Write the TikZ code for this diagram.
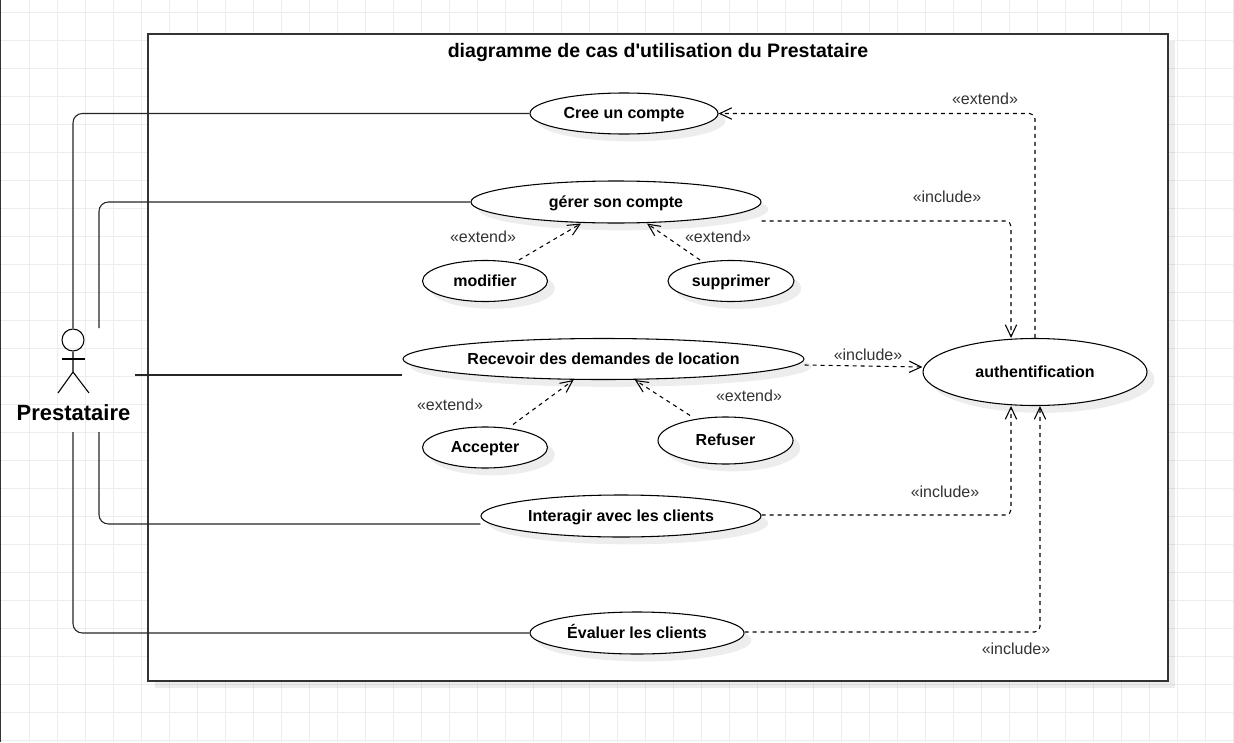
\documentclass[tikz,border=0pt]{standalone}
\usepackage{fontspec}
\setmainfont{Liberation Sans}
\newfontfamily\titlefont{Liberation Sans}
\usetikzlibrary{arrows.meta,shapes.geometric,shadows}
\definecolor{gridgray}{HTML}{EDEDED}
\definecolor{labelgray}{HTML}{333333}
\begin{document}
\begin{tikzpicture}[x = 0.75pt, y = -0.75pt, line width = 0.8pt,
	softshadow/.style = {drop shadow={shadow xshift=5.5pt,shadow yshift=-5.5pt,opacity=0.07,fill=black}},
	usecase/.style 2 args = {ellipse,draw,fill=white,softshadow,inner sep=0pt,text height=8.5pt,text depth=1pt,minimum width=#1*0.75pt,minimum height=#2*0.75pt,font=\fontsize{12}{14}\selectfont\bfseries},
	stereo/.style = {text=labelgray,font=\fontsize{12}{14}\selectfont},
	depend/.style = {dashed,dash pattern=on 3pt off 3pt,rounded corners=4pt,-{Straight Barb[length=9pt,width=8.5pt]}},
	assoc/.style = {draw=black!85,rounded corners=7pt},]
	
	\useasboundingbox (0,0) rectangle (1234,742);
	\fill[white] (0,0) rectangle (1234,742);
	\foreach \gx in {29,57,...,1233} {\draw[gridgray,line width=0.75pt] (\gx,0) -- (\gx,742);}
	\foreach \gy in {12.5,40.5,...,742} {\draw[gridgray,line width=0.75pt] (0,\gy) -- (1234,\gy);}
	\draw[labelgray,line width=1pt] (0.5,0) -- (0.5,742);
	
	\node[rectangle,draw=black!80,fill=white,softshadow,minimum width=1020*0.75pt,minimum height=647*0.75pt,inner sep=0pt] (frame) at (658,357.5) {};
	\node[font=\titlefont\fontsize{14.65}{18}\selectfont\bfseries] (title) at (658,52) {diagramme de cas d'utilisation du Prestataire};
	
	\node[circle,draw,inner sep=0pt,minimum size=22*0.75pt] (head) at (73,340) {};
	\coordinate (hip) at (73,372);
	\coordinate (armL) at (62,359);
	\coordinate (armR) at (85,359);
	\coordinate (footL) at (58,393);
	\coordinate (footR) at (89,393);
	\draw (head.south) -- (hip) -- (footL);
	\draw (hip) -- (footR);
	\draw (armL) -- (armR);
	\node[font=\fontsize{16.5}{20}\selectfont\bfseries] (actor) at (73.5,413) {Prestataire};
	
	\coordinate (actorA) at (99,328);
	\coordinate (actorB) at (135,375);
	\coordinate (actorC) at (99,432);
	\coordinate (actorD) at (73,432);
	
	\node[usecase={188}{41}] (cree) at (624,113.5) {Cree un compte};
	\node[usecase={290}{42}] (gerer) at (616,202) {gérer son compte};
	\node[usecase={125}{41}] (modifier) at (485,281) {modifier};
	\node[usecase={126}{41}] (supprimer) at (731,281) {supprimer};
	\node[usecase={401}{41}] (recevoir) at (603.5,359) {Recevoir des demandes de location};
	\node[usecase={125}{41}] (accepter) at (485,447.5) {Accepter};
	\node[usecase={135}{47}] (refuser) at (725.5,440.5) {Refuser};
	\node[usecase={224}{67}] (auth) at (1035,372) {authentification};
	\node[usecase={280}{42}] (interagir) at (621,516) {Interagir avec les clients};
	\node[usecase={214}{42}] (evaluer) at (637,633) {Évaluer les clients};
	
	\draw[assoc] (head.north) |- (cree.west);
	\draw[assoc] (actorA) |- (gerer.west);
	\draw[assoc] (actorB) -- ([shift={(0,16)}]recevoir.west);
	\draw[assoc] (actorC) |- ([shift={(0,8)}]interagir.west);
	\draw[assoc] (actorD) |- (evaluer.west);
	
	\draw[depend] (auth.north) |- (cree.east);
	\draw[depend] ([shift={(0,19)}]gerer.east) -| ([shift={(-24,0)}]auth.north);
	\draw[depend] ([shift={(34,0)}]modifier.north) -- ([shift={(-35,0)}]gerer.south);
	\draw[depend] ([shift={(-31,0)}]supprimer.north) -- ([shift={(31,0)}]gerer.south);
	\draw[depend] ([shift={(0,6)}]recevoir.east) -- ([shift={(0,-5)}]auth.west);
	\draw[depend] ([shift={(28,-2)}]accepter.north) -- ([shift={(-30,0)}]recevoir.south);
	\draw[depend] ([shift={(-35.5,-1)}]refuser.north) -- ([shift={(31.5,0)}]recevoir.south);
	\draw[depend] ([shift={(0,-1)}]interagir.east) -| ([shift={(-24,0)}]auth.south);
	\draw[depend] ([shift={(0,-1)}]evaluer.east) -| ([shift={(5,0)}]auth.south);
	
	\node[stereo] (extA) at (985,99) {«extend»};
	\node[stereo] (incA) at (947,197) {«include»};
	\node[stereo] (extB) at (483,237) {«extend»};
	\node[stereo] (extC) at (718,237) {«extend»};
	\node[stereo] (incB) at (868,355) {«include»};
	\node[stereo] (extD) at (450,405) {«extend»};
	\node[stereo] (extE) at (749,396) {«extend»};
	\node[stereo] (incC) at (945,492) {«include»};
	\node[stereo] (incD) at (1016,649) {«include»};
	
\end{tikzpicture}
\end{document}
